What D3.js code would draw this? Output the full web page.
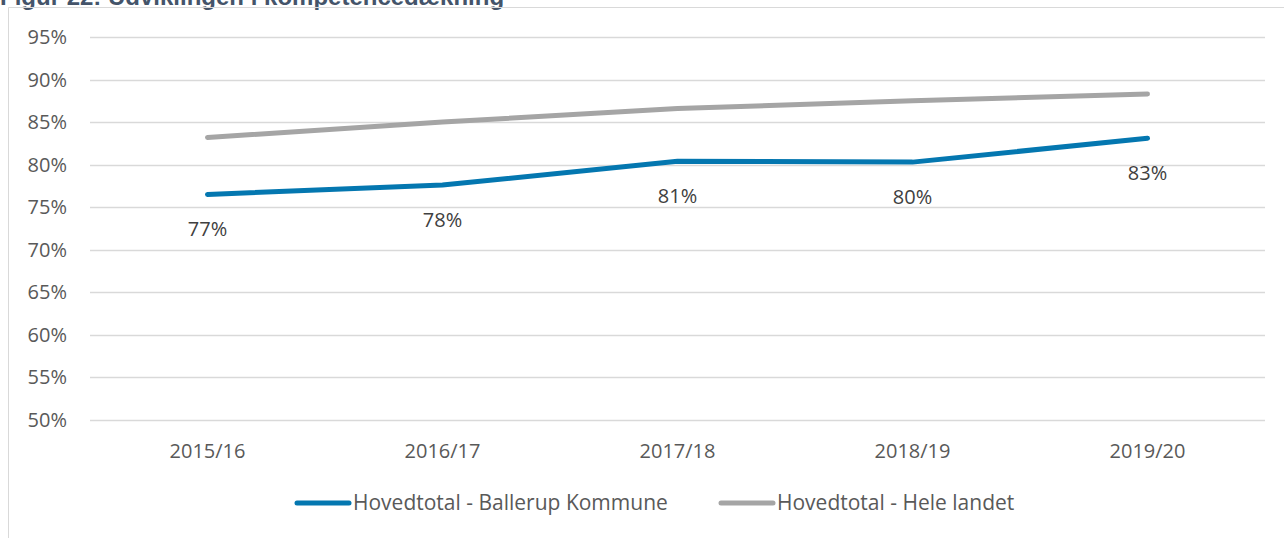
<!DOCTYPE html>
<html>
<head>
<meta charset="utf-8">
<script src="https://cdn.jsdelivr.net/npm/d3@7"></script>
<style>
  body { margin: 0; background: #fff; }
  svg { display: block; }
</style>
</head>
<body>
<svg id="chart"></svg>
<script>
const width = 1284;
const height = 538;

// data
const years = ["2015/16", "2016/17", "2017/18", "2018/19", "2019/20"];
const ballerup = [76.5, 77.6, 80.4, 80.3, 83.1];
const heleLandet = [83.2, 85.0, 86.6, 87.5, 88.3];
const ballerupLabels = ["77%", "78%", "81%", "80%", "83%"];
const yTicks = [50, 55, 60, 65, 70, 75, 80, 85, 90, 95];
const seriesNames = ["Hovedtotal - Ballerup Kommune", "Hovedtotal - Hele landet"];

const svg = d3.select("#chart").attr("width", width).attr("height", height);

// title, cut off at the top like in the original
svg.append("text")
  .attr("x", 0)
  .attr("y", 5)
  .attr("font-family", "Liberation Sans, Arial, sans-serif")
  .attr("font-weight", "bold")
  .attr("font-size", 24)
  .attr("fill", "#44546A")
  .text("Figur 22: Udviklingen i kompetencedækning");

// chart area frame (only left and top edge visible)
svg.append("path")
  .attr("d", "M8.5,538 V7.5 H1284")
  .attr("fill", "none")
  .attr("stroke", "#d9d9d9")
  .attr("stroke-width", 1);

const x = d3.scaleBand().domain(years).range([90, 1265]).padding(0);
const y = d3.scaleLinear().domain([50, 95]).range([420, 37]);
const cx = (d) => x(d) + x.bandwidth() / 2;

// gridlines
svg.append("g")
  .selectAll("line")
  .data(yTicks)
  .join("line")
  .attr("x1", 90)
  .attr("x2", 1265)
  .attr("y1", (d) => Math.round(y(d)) + 0.5)
  .attr("y2", (d) => Math.round(y(d)) + 0.5)
  .attr("stroke", "#d9d9d9")
  .attr("stroke-width", 1.5);

const font = "Open Sans, DejaVu Sans, sans-serif";

// y axis labels
svg.append("g")
  .selectAll("text")
  .data(yTicks)
  .join("text")
  .attr("x", 67)
  .attr("y", (d) => y(d) + 7)
  .attr("text-anchor", "end")
  .attr("font-family", font)
  .attr("font-size", 20)
  .attr("fill", "#595959")
  .text((d) => d + "%");

// x axis labels
svg.append("g")
  .selectAll("text")
  .data(years)
  .join("text")
  .attr("x", cx)
  .attr("y", 458)
  .attr("text-anchor", "middle")
  .attr("font-family", font)
  .attr("font-size", 20)
  .attr("fill", "#595959")
  .text((d) => d);

const line = d3.line()
  .x((d, i) => cx(years[i]))
  .y((d) => y(d));

svg.append("path")
  .datum(heleLandet)
  .attr("d", line)
  .attr("fill", "none")
  .attr("stroke", "#A5A5A5")
  .attr("stroke-width", 5)
  .attr("stroke-linecap", "round")
  .attr("stroke-linejoin", "round");

svg.append("path")
  .datum(ballerup)
  .attr("d", line)
  .attr("fill", "none")
  .attr("stroke", "#0477B0")
  .attr("stroke-width", 5)
  .attr("stroke-linecap", "round")
  .attr("stroke-linejoin", "round");

// data labels below the blue line
svg.append("g")
  .selectAll("text")
  .data(ballerup)
  .join("text")
  .attr("x", (d, i) => cx(years[i]))
  .attr("y", (d) => y(d) + 42)
  .attr("text-anchor", "middle")
  .attr("font-family", font)
  .attr("font-size", 20)
  .attr("fill", "#404040")
  .text((d, i) => ballerupLabels[i]);

// legend
const legendColors = ["#0477B0", "#A5A5A5"];
const legendX = [297, 721];
const legend = svg.append("g")
  .selectAll("g")
  .data(seriesNames)
  .join("g")
  .attr("transform", (d, i) => `translate(${legendX[i]},503)`);

legend.append("line")
  .attr("x1", 0)
  .attr("x2", 52)
  .attr("stroke", (d, i) => legendColors[i])
  .attr("stroke-width", 5)
  .attr("stroke-linecap", "round");

legend.append("text")
  .attr("x", 56)
  .attr("y", 7)
  .attr("font-family", font)
  .attr("font-size", 21)
  .attr("fill", "#595959")
  .text((d) => d);
</script>
</body>
</html>
